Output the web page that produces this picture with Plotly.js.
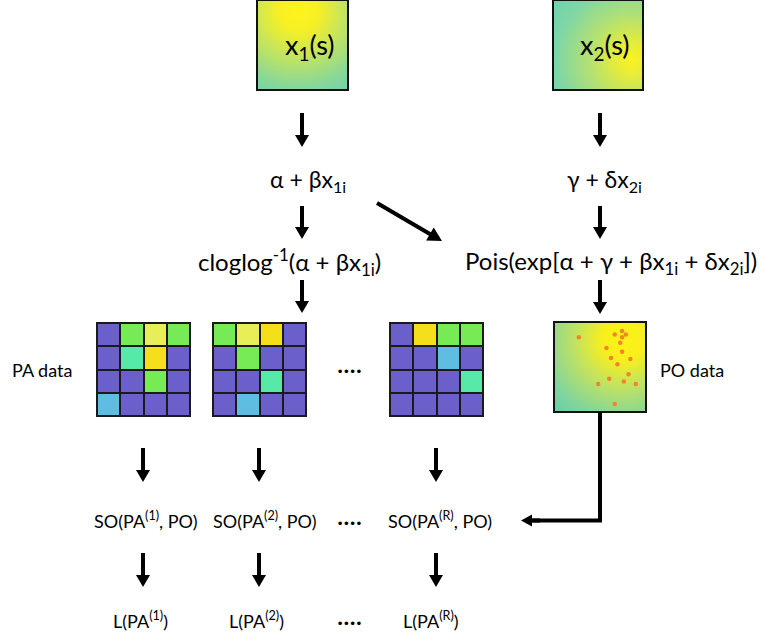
<!DOCTYPE html>
<html>
<head>
<meta charset="utf-8">
<script src="https://cdn.plot.ly/plotly-3.0.1.min.js"></script>
<style>html,body{margin:0;padding:0;background:#fff;}#chart{width:761px;height:635px;}</style>
</head>
<body>
<div id="chart"></div>
<script>
// ---------- data ----------
// Diagram labels
const topLabels   = ['x<sub>1</sub>(s)', 'x<sub>2</sub>(s)'];
const linLabels   = ['α + βx<sub>1i</sub>', 'γ + δx<sub>2i</sub>'];
const linkLabels  = ['cloglog<sup>-1</sup>(α + βx<sub>1i</sub>)', 'Pois(exp[α + γ + βx<sub>1i</sub> + δx<sub>2i</sub>])'];
const dataLabels  = ['PA data', 'PO data'];
const soLabels    = ['SO(PA<sup>(1)</sup>, PO)', 'SO(PA<sup>(2)</sup>, PO)', '····', 'SO(PA<sup>(R)</sup>, PO)'];
const lLabels     = ['L(PA<sup>(1)</sup>)', 'L(PA<sup>(2)</sup>)', '····', 'L(PA<sup>(R)</sup>)'];
const midDots     = '····';

// PA grids (cell classes 0..5, rows top to bottom)
const paGrid1 = [[0,3,4,3],[0,2,5,0],[0,0,3,0],[1,0,0,0]];
const paGrid2 = [[3,4,5,0],[0,3,0,0],[0,0,2,0],[0,1,0,0]];
const paGridR = [[0,5,3,3],[0,0,1,0],[0,0,0,2],[0,0,0,0]];

// PO points (box units 0..100, y upward)
const poX = [27, 66, 74, 78, 74, 72, 57, 74, 62, 69, 83, 81, 60, 76, 89, 48, 66];
const poY = [83, 86, 90, 86, 83, 77, 71, 67, 60, 53, 59, 42, 37, 34, 31, 31, 9];

// ---------- layout / style (positions in page pixels) ----------
const W = 761, H = 635;
const cellColors = [[0,'#6b60cb'],[0.2,'#5fbde2'],[0.4,'#57e9a8'],[0.6,'#77eb55'],[0.8,'#e7ee58'],[1,'#f5df1b']];
const gridBoxes = [[97,323],[213,323],[390,323]]; // top-left
const gridSize = 93;
const topBoxes = [[257,0,348,90],[553,0,643,90]];
const poBox = [554,322,646,412];

const shapes = [];
const annotations = [];
const images = [];

function grad(cx, cy, r, stops){
  let s = `<svg xmlns="http://www.w3.org/2000/svg" width="100" height="100" viewBox="0 0 100 100" preserveAspectRatio="none"><defs><radialGradient id="g" cx="${cx}" cy="${cy}" r="${r}">`;
  stops.forEach(st => { s += `<stop offset="${st[0]}" stop-color="${st[1]}"/>`; });
  s += `</radialGradient></defs><rect width="100" height="100" fill="url(#g)"/></svg>`;
  return 'data:image/svg+xml;charset=utf-8,' + encodeURIComponent(s);
}
const gradX1 = grad(0.45, 0.12, 1.0, [[0,'#fff31a'],[0.22,'#f6f024'],[0.5,'#c6e55c'],[0.85,'#86d79a'],[1,'#78d3a6']]);
const gradX2 = grad(0.88, 0.66, 1.05, [[0,'#fbf222'],[0.15,'#eaed35'],[0.45,'#b4e171'],[0.8,'#7fd6a6'],[1,'#74d2ad']]);
const gradPO = grad(0.75, 0.2, 1.05, [[0,'#fff314'],[0.22,'#f7ef1e'],[0.5,'#c0e262'],[0.85,'#7ed49e'],[1,'#6ccfa6']]);

images.push({source: gradX1, xref:'x', yref:'y', x:topBoxes[0][0], y:topBoxes[0][1], sizex:topBoxes[0][2]-topBoxes[0][0], sizey:topBoxes[0][3]-topBoxes[0][1], sizing:'stretch', layer:'below', xanchor:'left', yanchor:'top'});
images.push({source: gradX2, xref:'x', yref:'y', x:topBoxes[1][0], y:topBoxes[1][1], sizex:topBoxes[1][2]-topBoxes[1][0], sizey:topBoxes[1][3]-topBoxes[1][1], sizing:'stretch', layer:'below', xanchor:'left', yanchor:'top'});
images.push({source: gradPO, xref:'x', yref:'y', x:poBox[0], y:poBox[1], sizex:poBox[2]-poBox[0], sizey:poBox[3]-poBox[1], sizing:'stretch', layer:'below', xanchor:'left', yanchor:'top'});

topBoxes.concat([poBox]).forEach(b => {
  shapes.push({type:'rect', xref:'x', yref:'y', x0:b[0], y0:b[1], x1:b[2], y1:b[3], line:{color:'#111', width:2}, fillcolor:'rgba(0,0,0,0)', layer:'above'});
});

// black backgrounds for PA grids
gridBoxes.forEach(g => {
  shapes.push({type:'rect', xref:'x', yref:'y', x0:g[0]-1, y0:g[1]-1, x1:g[0]+gridSize+1, y1:g[1]+gridSize+1, line:{width:0}, fillcolor:'#1a1a1a', layer:'below'});
});

function arrow(x0, y0, x1, y1, opts){
  const w = (opts && opts.w) || 4, hl = (opts && opts.hl) || 12, hw = (opts && opts.hw) || 7;
  const dx = x1-x0, dy = y1-y0, L = Math.hypot(dx, dy), ux = dx/L, uy = dy/L;
  const bx = x1-ux*hl, by = y1-uy*hl, px = -uy, py = ux;
  shapes.push({type:'line', xref:'x', yref:'y', x0:x0, y0:y0, x1:bx+ux*2, y1:by+uy*2, line:{color:'#000', width:w}});
  shapes.push({type:'path', xref:'x', yref:'y', path:`M${x1},${y1} L${bx+px*hw},${by+py*hw} L${bx-px*hw},${by-py*hw} Z`, fillcolor:'#000', line:{width:0}});
}
// vertical arrows
[[302,113,147],[302,206,239],[302,280,313],[600,113,147],[600,206,239],[600,280,314],
 [143,448,482],[259,448,482],[436,448,482],[143,553,587],[259,553,587],[436,553,587]].forEach(a => arrow(a[0], a[1], a[0], a[2]));
// diagonal arrow
arrow(377, 203, 442, 241, {hl:14, hw:7.5});
// elbow from PO data to SO(PA^(R), PO)
shapes.push({type:'path', xref:'x', yref:'y', path:'M600,412 L600,520.5 L532,520.5', line:{color:'#000', width:4}});
arrow(540, 520.5, 521, 520.5, {hl:11, hw:6});

// ---------- text ----------
const FONT = 'Lato, "Open Sans", "Noto Sans", sans-serif';
function txt(t, x, y, size, anchor){
  annotations.push({text:t, xref:'x', yref:'y', x:x, y:y, showarrow:false, xanchor:anchor||'center', yanchor:'middle', font:{family:FONT, size:size, color:'#000'}});
}
const topPos = [[309,46],[604,46]];
const linPos = [[308,180],[604,180]];
const linkPos = [[289,262],[611,262]];
topLabels.forEach((t,i) => txt(t, topPos[i][0], topPos[i][1], 27));
linLabels.forEach((t,i) => txt(t, linPos[i][0], linPos[i][1], 23));
linkLabels.forEach((t,i) => txt(t, linkPos[i][0], linkPos[i][1], 24));
txt(dataLabels[0], 42, 370, 18);
txt(dataLabels[1], 658, 370, 18, 'left');
const soX = [145, 264, 349, 440];
const lX = [140, 256, 349, 431];
txt(midDots, 349, 368, 24);
soLabels.forEach((t,i) => txt(t, soX[i], 520, i === 2 ? 24 : 18));
lLabels.forEach((t,i) => txt(t, lX[i], 620, i === 2 ? 24 : 18));

// ---------- traces ----------
const cell = gridSize/4;
function gridTrace(z, box){
  return {type:'heatmap', z:z, x0:box[0]+cell/2, dx:cell, y0:box[1]+cell/2, dy:cell,
    colorscale:cellColors, zmin:0, zmax:5, showscale:false, xgap:2, ygap:2, hoverinfo:'skip', xaxis:'x', yaxis:'y'};
}
const traces = [
  gridTrace(paGrid1, gridBoxes[0]),
  gridTrace(paGrid2, gridBoxes[1]),
  gridTrace(paGridR, gridBoxes[2]),
  {type:'scatter', mode:'markers', x:poX, y:poY, xaxis:'x2', yaxis:'y2',
    marker:{color:'#f4822f', size:4.5, line:{width:0}}, hoverinfo:'skip'}
];

const layout = {
  width:W, height:H, margin:{l:0, r:0, t:0, b:0, pad:0},
  paper_bgcolor:'#ffffff', plot_bgcolor:'rgba(0,0,0,0)', showlegend:false,
  xaxis:{range:[0,W], visible:false, fixedrange:true, domain:[0,1]},
  yaxis:{range:[H,0], visible:false, fixedrange:true, domain:[0,1]},
  xaxis2:{range:[0,100], visible:false, fixedrange:true, domain:[poBox[0]/W, poBox[2]/W], anchor:'y2'},
  yaxis2:{range:[0,100], visible:false, fixedrange:true, domain:[1-poBox[3]/H, 1-poBox[1]/H], anchor:'x2'},
  shapes:shapes, annotations:annotations, images:images
};
Plotly.newPlot('chart', traces, layout, {displayModeBar:false, staticPlot:true});
</script>
</body>
</html>
